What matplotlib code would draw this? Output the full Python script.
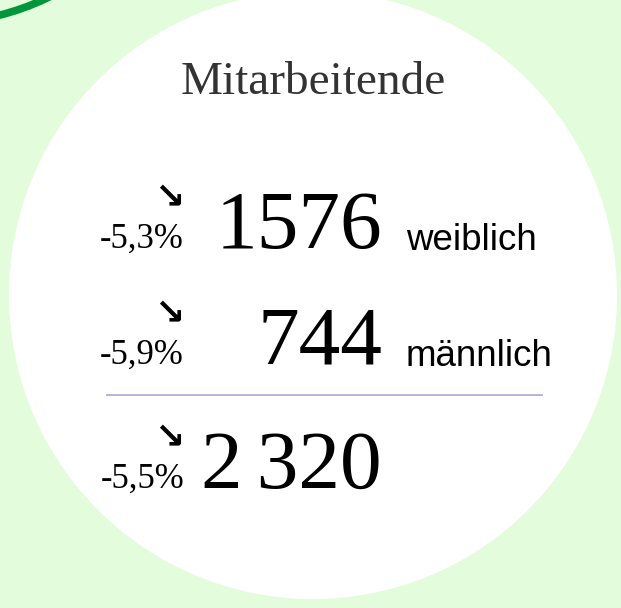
import matplotlib
matplotlib.use("Agg")
import matplotlib.pyplot as plt
from matplotlib.patches import Circle, Arc

# data
title = "Mitarbeitende"
groups = ["weiblich", "männlich"]
counts = [1576, 744]
changes = [-5.3, -5.9]
total = 2320
total_change = -5.5

BG = "#e3fddc"
GREEN = "#00973b"
SERIF = ["Liberation Serif", "DejaVu Serif"]
SANS = ["Liberation Sans", "DejaVu Sans"]


def fmt_pct(v):
    return f"{v:.1f}".replace(".", ",") + "%"


def fmt_total(v):
    return f"{v:,}".replace(",", "\u200a\u200a")


fig = plt.figure(figsize=(6.21, 6.08), dpi=100, facecolor=BG)
ax = fig.add_axes([0, 0, 1, 1])
ax.set_xlim(0, 621)
ax.set_ylim(608, 0)
ax.set_facecolor(BG)
ax.axis("off")

# big white disc and the green ring piece in the corner
ax.add_patch(Circle((313, 295), 304, facecolor="white", edgecolor="none"))
ax.add_patch(Arc((-63, -232), 510, 510, theta1=0, theta2=90,
                 edgecolor=GREEN, linewidth=5.5))

ax.text(313, 94, title, family=SERIF, fontsize=34, color="#333333",
        ha="center", va="baseline")

baselines = [248, 364]
for i, (grp, n, ch) in enumerate(zip(groups, counts, changes)):
    y = baselines[i]
    ax.text(382, y, str(n), family=SERIF, fontsize=60, color="black",
            ha="right", va="baseline")
    ax.text(406, y + 2, grp, family=SANS, fontsize=26.5, color="black",
            ha="left", va="baseline")
    ax.text(184, y, fmt_pct(ch), family=SERIF, fontsize=25, color="black",
            ha="right", va="baseline")
    ax.text(184, y - 40, "\u2198", family=["DejaVu Sans"], fontsize=26,
            fontweight="bold", color="black", ha="right", va="baseline")

ax.plot([106, 543], [395, 395], color="#aba7cf", linewidth=1.2,
        solid_capstyle="butt")

ax.text(382, 488, fmt_total(total), family=SERIF, fontsize=60, color="black",
        ha="right", va="baseline")
ax.text(184, 488, fmt_pct(total_change), family=SERIF, fontsize=25,
        color="black", ha="right", va="baseline")
ax.text(184, 448, "\u2198", family=["DejaVu Sans"], fontsize=26,
        fontweight="bold", color="black", ha="right", va="baseline")

fig.savefig("out.png", dpi=100, facecolor=BG)
